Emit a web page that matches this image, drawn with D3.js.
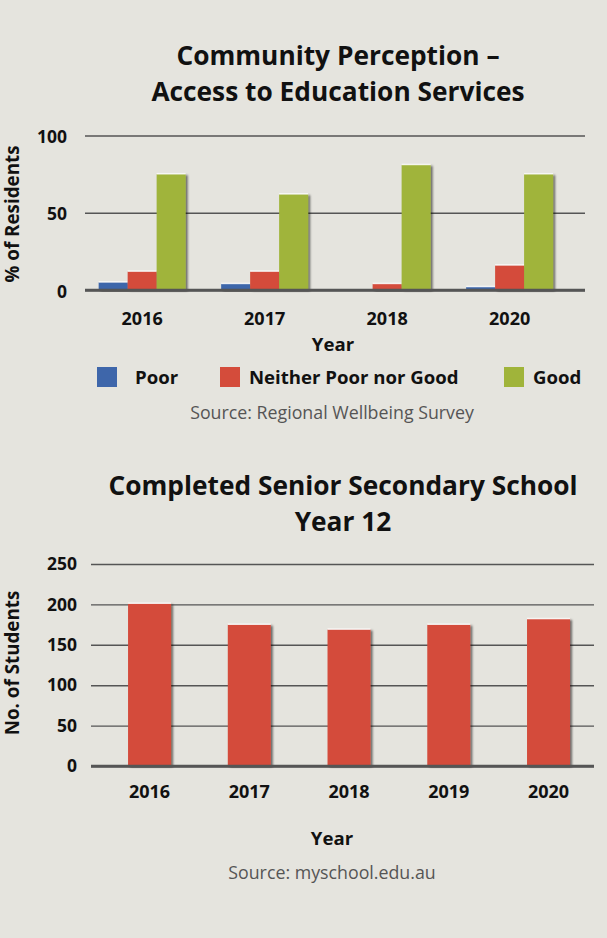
<!DOCTYPE html>
<html>
<head>
<meta charset="utf-8">
<script src="https://cdn.jsdelivr.net/npm/d3@7"></script>
<style>
  html, body { margin: 0; padding: 0; background: #e5e4de; }
  svg { display: block; }
  text { font-family: "Open Sans", sans-serif; }
</style>
</head>
<body>
<div id="chart"></div>
<script>
// ---------- Data ----------
const perceptionYears = ["2016", "2017", "2018", "2020"];
const perceptionSeries = ["Poor", "Neither Poor nor Good", "Good"];
const poorValues = [5, 4, 0, 2];
const neitherValues = [12, 12, 4, 16];
const goodValues = [75, 62, 81, 75];
const perceptionTicks = [0, 50, 100];

const schoolYears = ["2016", "2017", "2018", "2019", "2020"];
const schoolValues = [201, 175, 169, 175, 182];
const schoolTicks = [0, 50, 100, 150, 200, 250];

const seriesColors = ["#3e66aa", "#d44c3b", "#a0b43a"];

// ---------- Setup ----------
const W = 607, H = 938;
const svg = d3.select("#chart").append("svg").attr("width", W).attr("height", H);
svg.append("rect").attr("width", W).attr("height", H).attr("fill", "#e5e4de");

const defs = svg.append("defs");
const f = defs.append("filter").attr("id", "shadow").attr("x", "-20%").attr("y", "-20%").attr("width", "150%").attr("height", "140%");
f.append("feDropShadow").attr("dx", 2).attr("dy", 1).attr("stdDeviation", 0.8)
  .attr("flood-color", "#000").attr("flood-opacity", 0.55);

function drawBar(g, x, y, w, h, color) {
  if (h <= 0) return;
  g.append("rect").attr("x", x).attr("y", y).attr("width", w).attr("height", h)
    .attr("fill", color).attr("filter", "url(#shadow)");
  g.append("rect").attr("x", x).attr("y", y - 1.2).attr("width", w).attr("height", 1.6)
    .attr("fill", "#fff").attr("opacity", 0.75);
}

function title(g, x, y, lines, lh, size) {
  lines.forEach((l, i) => g.append("text").attr("x", x).attr("y", y + i * lh)
    .attr("text-anchor", "middle").attr("font-size", size).attr("font-weight", 700)
    .attr("fill", "#111").text(l));
}

const TITLE = 26.3, TICK = 18, LABEL = 18.6, YTICK = 17.5, SRC = 17.8, YTITLE = 18.8;

// ---------- Chart 1 ----------
const g1 = svg.append("g");
const y1 = d3.scaleLinear().domain([0, 100]).range([290, 135.5]);
const x1 = d3.scaleBand().domain(perceptionYears).range([85, 585])
  .paddingInner(0.29).paddingOuter(0.186).align(0.3);
const xs1 = d3.scaleBand().domain(perceptionSeries).range([0, x1.bandwidth()]);
const color1 = d3.scaleOrdinal().domain(perceptionSeries).range(seriesColors);

title(g1, 338, 64.5, ["Community Perception –", "Access to Education Services"], 36, TITLE);

// grid
const yAxis1 = d3.axisLeft(y1).tickValues(perceptionTicks).tickSize(-500).tickPadding(18);
const ya1 = g1.append("g").attr("transform", "translate(85,0)").call(yAxis1);
ya1.select(".domain").remove();
ya1.selectAll(".tick line").attr("stroke", "#555").attr("stroke-width", d => d === 0 ? 2.6 : 1.4);
ya1.selectAll(".tick text").attr("font-size", YTICK).attr("font-weight", 700).attr("fill", "#111")
  .attr("font-family", "Open Sans").attr("dy", "0.4em");

const seriesValues1 = [poorValues, neitherValues, goodValues];
const bars1 = g1.append("g");
perceptionYears.forEach((yr, i) => {
  perceptionSeries.forEach((s, j) => {
    const v = seriesValues1[j][i];
    drawBar(bars1, x1(yr) + xs1(s), y1(v), xs1.bandwidth(), y1(0) - y1(v), color1(s));
  });
});
// redraw baseline on top
g1.append("line").attr("x1", 85).attr("x2", 585).attr("y1", y1(0)).attr("y2", y1(0))
  .attr("stroke", "#555").attr("stroke-width", 2.6);

const xAxis1 = d3.axisBottom(x1).tickSize(0).tickPadding(22);
const xa1 = g1.append("g").attr("transform", `translate(0,${y1(0)})`).call(xAxis1);
xa1.select(".domain").remove();
xa1.selectAll(".tick text").attr("font-size", TICK).attr("font-weight", 700).attr("fill", "#111")
  .attr("font-family", "Open Sans");

g1.append("text").attr("x", 333).attr("y", 351).attr("text-anchor", "middle")
  .attr("font-size", LABEL).attr("font-weight", 700).attr("fill", "#111").text("Year");
g1.append("text").attr("transform", "translate(19,214) rotate(-90)").attr("text-anchor", "middle")
  .attr("font-size", YTITLE).attr("font-weight", 700).attr("fill", "#111").text("% of Residents");

// legend
const legendX = [97, 220, 504];
const legend = g1.append("g");
perceptionSeries.forEach((s, j) => {
  legend.append("rect").attr("x", legendX[j]).attr("y", 367).attr("width", 20).attr("height", 20).attr("fill", color1(s));
  legend.append("text").attr("x", legendX[j] + (j === 0 ? 38 : 29)).attr("y", 383.5)
    .attr("font-size", LABEL).attr("font-weight", 700).attr("fill", "#111").text(s);
});

g1.append("text").attr("x", 332).attr("y", 419).attr("text-anchor", "middle")
  .attr("font-size", SRC).attr("fill", "#555").text("Source: Regional Wellbeing Survey");

// ---------- Chart 2 ----------
const g2 = svg.append("g");
const y2 = d3.scaleLinear().domain([0, 250]).range([766, 564]);
const x2 = d3.scaleBand().domain(schoolYears).range([91, 594])
  .paddingInner(0.569).paddingOuter(0.306).align(0.607);

title(g2, 343, 495, ["Completed Senior Secondary School", "Year 12"], 36, TITLE);

const yAxis2 = d3.axisLeft(y2).tickValues(schoolTicks).tickSize(-503).tickPadding(14);
const ya2 = g2.append("g").attr("transform", "translate(91,0)").call(yAxis2);
ya2.select(".domain").remove();
ya2.selectAll(".tick line").attr("stroke", "#555").attr("stroke-width", d => d === 0 ? 2.6 : 1.4);
ya2.selectAll(".tick text").attr("font-size", YTICK).attr("font-weight", 700).attr("fill", "#111")
  .attr("font-family", "Open Sans").attr("dy", "0.32em");

const bars2 = g2.append("g");
schoolYears.forEach((yr, i) => {
  const v = schoolValues[i];
  drawBar(bars2, x2(yr), y2(v), x2.bandwidth(), y2(0) - y2(v), seriesColors[1]);
});
g2.append("line").attr("x1", 91).attr("x2", 594).attr("y1", y2(0)).attr("y2", y2(0))
  .attr("stroke", "#555").attr("stroke-width", 2.6);

const xAxis2 = d3.axisBottom(x2).tickSize(0).tickPadding(19);
const xa2 = g2.append("g").attr("transform", `translate(0,${y2(0)})`).call(xAxis2);
xa2.select(".domain").remove();
xa2.selectAll(".tick text").attr("font-size", TICK).attr("font-weight", 700).attr("fill", "#111")
  .attr("font-family", "Open Sans");

g2.append("text").attr("x", 332).attr("y", 845).attr("text-anchor", "middle")
  .attr("font-size", LABEL).attr("font-weight", 700).attr("fill", "#111").text("Year");
g2.append("text").attr("transform", "translate(19,663) rotate(-90)").attr("text-anchor", "middle")
  .attr("font-size", YTITLE).attr("font-weight", 700).attr("fill", "#111").text("No. of Students");

g2.append("text").attr("x", 332).attr("y", 879).attr("text-anchor", "middle")
  .attr("font-size", SRC).attr("fill", "#555").text("Source: myschool.edu.au");
</script>
</body>
</html>
